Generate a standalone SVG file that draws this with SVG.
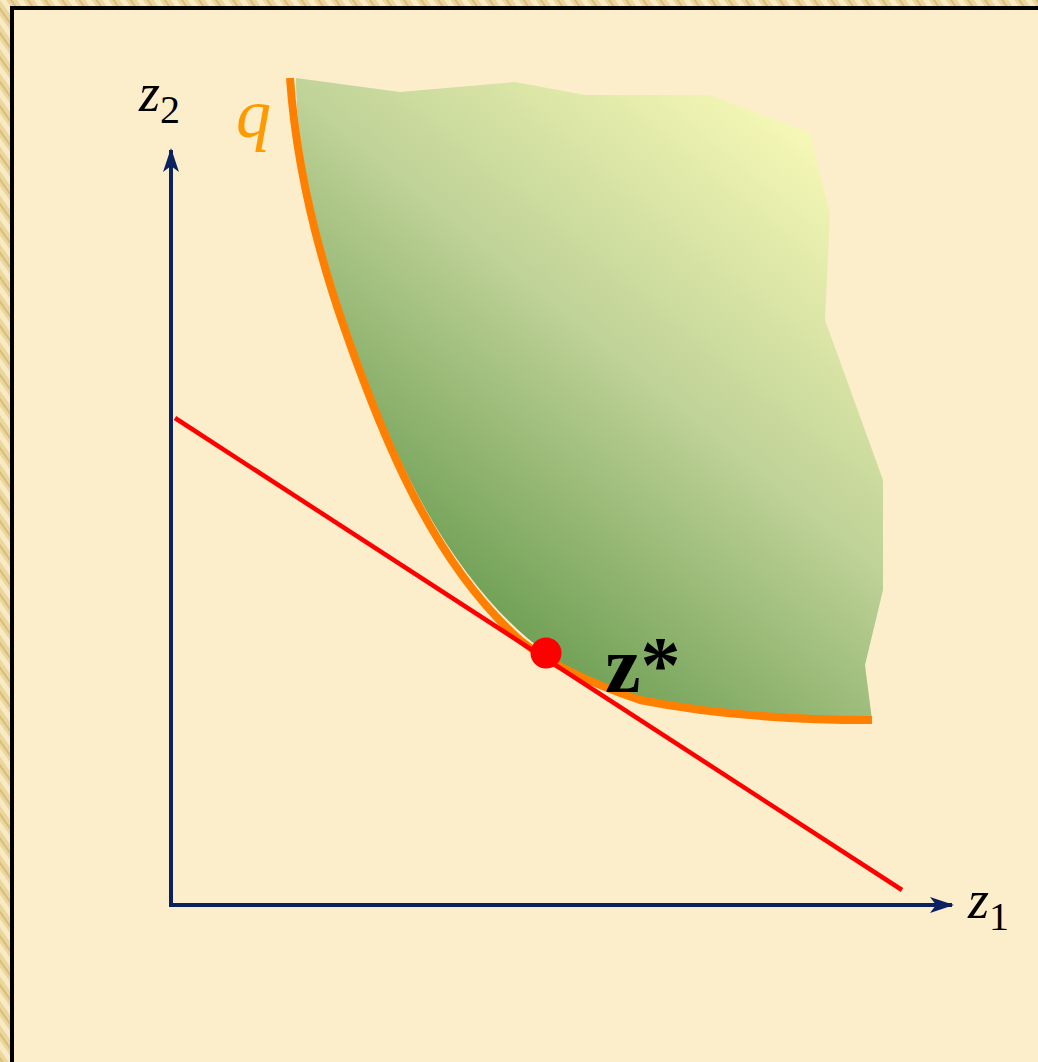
<svg xmlns="http://www.w3.org/2000/svg" width="1038" height="1062" viewBox="0 0 1038 1062">
<style>
.axis{stroke:#0B2160;stroke-width:4;fill:none}
.lbl{font-family:"Liberation Serif",serif;fill:#000}
</style>
<defs>
<pattern id="tex" width="14" height="14" patternUnits="userSpaceOnUse" patternTransform="rotate(-35)">
<rect width="14" height="14" fill="#EBD79E"/>
<rect width="5" height="14" fill="#F8EBC3"/>
<rect x="8" width="2" height="14" fill="#D8BE78"/>
</pattern>
<linearGradient id="g" gradientUnits="userSpaceOnUse" x1="430" y1="610" x2="830" y2="120">
<stop offset="0" stop-color="#679A4E"/>
<stop offset="0.5" stop-color="#BFD297"/>
<stop offset="1" stop-color="#FAFBB8"/>
</linearGradient>
<marker id="ah2" viewBox="0 0 24 16" refX="22" refY="8" markerWidth="24" markerHeight="16" markerUnits="userSpaceOnUse" orient="auto">
<path d="M0,0 L24,8 L0,16 L6,8 Z" fill="#0B2160"/>
</marker>
</defs>
<rect width="1038" height="1062" fill="url(#tex)"/>
<rect x="12" y="8" width="1040" height="1070" fill="#FCEECB" stroke="#000" stroke-width="4"/>
<g id="region">
<path d="M296,78 L400,92 L515,82 L585,95 L710,95 L810,133 L830,215 L825,320 L883,480 L883,590 L865,665 L872,720 C800,720 720,716 640,700 C600,690 570,670 545,652 C500,620 450,560 410,480 C370,400 330,300 310,200 C300,150 296,110 296,78 Z" fill="url(#g)"/>
<path id="q-curve" d="M290,78 C295,150 310,230 345,330 C380,430 430,560 520,640 C545,660 580,680 640,700 C720,716 800,720 872,720" fill="none" stroke="#FF8000" stroke-width="8"/>
</g>
<g id="connectors">
<line class="axis" x1="171" y1="905" x2="171" y2="150" marker-end="url(#ah2)"/>
<line class="axis" x1="169" y1="905" x2="952" y2="905" marker-end="url(#ah2)"/>
<line x1="175" y1="418" x2="902" y2="890" stroke="#FF0000" stroke-width="4.5"/>
</g>
<g id="zstar">
<circle cx="546" cy="653" r="15.5" fill="#FF0000"/>
<text class="lbl" x="605" y="692" font-size="80" font-weight="bold">z*</text>
</g>
<g id="labels">
<text class="lbl" x="139" y="111" font-size="54" font-style="italic">z<tspan font-size="40" font-style="normal" dy="12">2</tspan></text>
<text class="lbl" x="968" y="918" font-size="54" font-style="italic">z<tspan font-size="40" font-style="normal" dy="12">1</tspan></text>
<text x="236" y="137" font-family="'Liberation Serif',serif" font-size="70" font-style="italic" fill="#FF9900">q</text>
</g>
</svg>
